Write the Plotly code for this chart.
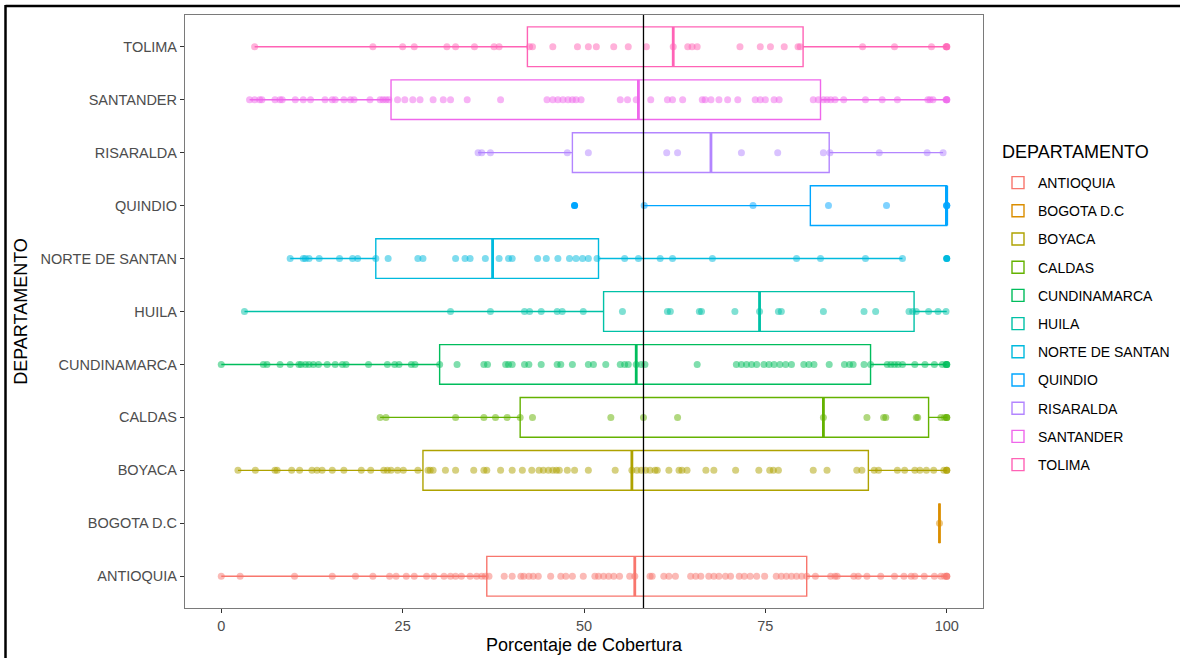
import plotly.graph_objects as go

# ---------------- data ----------------
departamentos = ["ANTIOQUIA", "BOGOTA D.C", "BOYACA", "CALDAS", "CUNDINAMARCA", "HUILA",
                 "NORTE DE SANTAN", "QUINDIO", "RISARALDA", "SANTANDER", "TOLIMA"]
colores = ["#F8766D", "#DB8E00", "#AEA200", "#64B200", "#00BD5C", "#00C1A7",
           "#00BADE", "#00A6FF", "#B385FF", "#EF67EB", "#FF63B6"]

q1 = [36.6, 99.0, 27.8, 41.2, 30.1, 52.7, 21.3, 81.2, 48.4, 23.4, 42.2]
mediana = [57.0, 99.0, 56.6, 83.0, 57.2, 74.2, 37.4, 100.0, 67.5, 57.5, 62.3]
q3 = [80.7, 99.0, 89.2, 97.5, 89.5, 95.5, 52.0, 100.0, 83.8, 82.6, 80.2]
bigote_inf = [0.0, 99.0, 2.3, 21.9, 0.0, 3.2, 9.5, 58.3, 35.4, 3.9, 4.6]
bigote_sup = [100.0, 99.0, 100.0, 100.0, 100.0, 100.0, 93.9, 100.0, 99.5, 100.0, 100.0]

atipicos_quindio = [48.7]
atipicos_norte = [100.0]

media_general = 58.2

pts_antioquia = [0, 2.6, 10.1, 15.3, 18.5, 20.9, 23.2, 24.1, 25.5, 26.6, 28.3, 29.3, 30.7, 31.6,
                 32.3, 33.1, 34.3, 35.2, 35.9, 36.4, 36.9, 39.0, 40.1, 41.3, 41.7, 42.4, 43.0, 43.7,
                 45.4, 46.8, 47.5, 48.4, 49.9, 51.5, 52.0, 52.7, 53.4, 54.1, 54.9, 56.3, 57.0, 59.1,
                 59.4, 61.0, 61.7, 62.6, 64.7, 65.4, 66.1, 67.2, 67.9, 68.6, 69.5, 70.2, 71.4, 72.1,
                 72.9, 73.8, 74.9, 76.5, 77.2, 77.9, 78.6, 79.3, 80.0, 80.7, 81.9, 84.0, 84.6, 84.9,
                 87.2, 87.8, 89.0, 90.9, 92.8, 94.1, 95.1, 95.6, 96.9, 98.3, 99.2, 99.7, 100, 100, 100]
pts_bogota = [99.0]
pts_boyaca = [2.3, 4.7, 7.4, 7.7, 9.7, 10.8, 12.5, 13.2, 13.9, 15.3, 16.9, 19.3, 20.6, 22.4, 22.9,
              23.4, 24.3, 25.1, 27.1, 28.5, 28.8, 29.2, 30.9, 32.3, 34.8, 36.2, 36.6, 38.5, 40.1,
              41.5, 42.8, 43.8, 44.4, 45.1, 45.7, 46.2, 46.6, 47.7, 48.7, 50.6, 54.3, 56.6, 57.3,
              57.9, 58.5, 59.1, 59.8, 60.1, 61.7, 63.1, 63.5, 64.2, 66.8, 67.9, 70.9, 74.1, 75.6,
              76.1, 76.8, 81.6, 83.5, 87.6, 88.3, 90.0, 90.6, 93.2, 94.2, 95.6, 96.3, 97.2, 98.2,
              99.6, 100, 100, 100]
pts_caldas = [21.9, 22.7, 32.3, 36.2, 37.8, 39.4, 41.2, 42.9, 53.7, 58.2, 62.9, 83.0, 89.0, 91.3,
              91.6, 95.8, 96.0, 99.2, 99.7, 100, 100, 100]
pts_cundinamarca = [0, 5.8, 6.3, 8.1, 9.5, 10.7, 11.0, 11.6, 12.1, 12.7, 13.4, 14.6, 15.7, 16.7,
                    17.2, 20.3, 22.9, 23.9, 24.5, 26.2, 26.7, 30.1, 32.5, 36.2, 36.7, 39.2, 39.6,
                    40.1, 41.8, 42.4, 44.1, 46.3, 46.8, 48.4, 50.6, 51.3, 53.0, 55.0, 55.6, 56.1,
                    57.2, 57.9, 58.4, 65.6, 71.0, 71.7, 72.4, 73.1, 73.8, 74.8, 75.5, 76.2, 77.0,
                    77.8, 78.6, 80.3, 81.0, 81.7, 83.8, 85.9, 86.6, 87.1, 88.6, 89.5, 91.8, 92.3,
                    92.8, 93.3, 93.9, 95.6, 97.0, 98.3, 99.4, 99.9, 100, 100, 100]
pts_huila = [3.2, 31.6, 37.1, 41.8, 42.5, 44.1, 46.3, 47.0, 49.9, 55.3, 61.5, 61.9, 65.9, 66.2,
             70.8, 74.2, 76.8, 77.2, 83.0, 88.6, 90.2, 94.8, 95.3, 95.8, 97.5, 98.8, 99.9]
pts_norte = [9.5, 11.3, 11.6, 12.1, 13.5, 16.3, 18.1, 18.8, 21.3, 23.0, 27.1, 27.8, 32.3, 33.6,
             34.3, 36.4, 38.3, 39.6, 40.1, 43.6, 44.8, 46.4, 48.0, 48.9, 49.8, 50.6, 51.8, 55.6,
             57.5, 60.5, 62.2, 67.7, 79.3, 82.6, 88.8, 93.9, 100]
pts_quindio = [48.7, 58.3, 73.3, 83.7, 91.7, 100, 100, 100, 100]
pts_risaralda = [35.4, 35.9, 37.1, 47.7, 50.6, 61.4, 62.9, 71.7, 76.7, 83.0, 83.9, 90.7, 97.3, 99.5]
pts_santander = [3.9, 4.6, 5.3, 5.6, 7.4, 8.1, 8.4, 10.2, 11.3, 12.3, 14.3, 15.3, 15.7, 16.9, 17.8,
                 18.3, 20.5, 21.9, 22.3, 22.7, 23.1, 24.3, 25.3, 26.4, 27.4, 29.2, 30.6, 31.6,
                 33.9, 38.5, 44.9, 45.7, 46.4, 47.1, 47.8, 48.4, 48.9, 49.6, 55.0, 56.0, 57.2,
                 59.2, 61.5, 62.2, 63.6, 66.3, 66.7, 67.5, 68.6, 69.8, 71.2, 73.6, 74.3, 75.0,
                 76.2, 76.9, 81.6, 82.3, 83.0, 83.5, 84.0, 84.6, 85.8, 88.8, 91.1, 93.2, 97.4,
                 97.7, 98.1, 99.9, 100, 100, 100]
pts_tolima = [4.6, 20.9, 25.0, 26.6, 31.1, 32.3, 34.9, 37.6, 38.3, 42.5, 42.9, 45.7, 49.1, 50.6,
              51.7, 54.1, 56.1, 58.6, 62.3, 64.3, 64.9, 65.6, 71.5, 74.3, 75.7, 77.6, 79.5, 79.8,
              88.4, 92.8, 97.9, 99.9, 100, 100, 100]

puntos = [pts_antioquia, pts_bogota, pts_boyaca, pts_caldas, pts_cundinamarca, pts_huila,
          pts_norte, pts_quindio, pts_risaralda, pts_santander, pts_tolima]
atipicos = [[], [], [], [], [], [], atipicos_norte, atipicos_quindio, [], [], []]

x_ticks = [0, 25, 50, 75, 100]
titulo_leyenda = "DEPARTAMENTO"

# ---------------- figure ----------------
FONT = "Liberation Sans, Arial, sans-serif"
BOX_W = 0.75

fig = go.Figure()

for i, dep in enumerate(departamentos):
    col = colores[i]
    fig.add_trace(go.Box(
        y=[i], q1=[q1[i]], median=[mediana[i]], q3=[q3[i]],
        lowerfence=[bigote_inf[i]], upperfence=[bigote_sup[i]],
        orientation="h", name=dep, legendgroup=dep, showlegend=True,
        width=BOX_W, whiskerwidth=0, boxpoints=False,
        fillcolor="rgba(255,255,255,0)", line=dict(color=col, width=1.4),
        hoverinfo="skip",
    ))
    # thicker median line (as in ggplot)
    fig.add_trace(go.Scatter(
        x=[mediana[i], mediana[i]], y=[i - BOX_W / 2, i + BOX_W / 2],
        mode="lines", line=dict(color=col, width=2.8),
        legendgroup=dep, showlegend=False, hoverinfo="skip",
    ))
    if atipicos[i]:
        fig.add_trace(go.Scatter(
            x=atipicos[i], y=[i] * len(atipicos[i]), mode="markers",
            marker=dict(color=col, size=7, line=dict(width=0)),
            legendgroup=dep, showlegend=False, hoverinfo="skip",
        ))
    fig.add_trace(go.Scatter(
        x=puntos[i], y=[i] * len(puntos[i]), mode="markers",
        marker=dict(color=col, size=7, opacity=0.5, line=dict(width=0)),
        legendgroup=dep, showlegend=False, hoverinfo="skip",
    ))

# vertical reference line (overall mean)
fig.add_shape(type="line", x0=media_general, x1=media_general, y0=0, y1=1,
              xref="x", yref="paper", line=dict(color="black", width=1.3))

# layout helpers (pixel -> paper)
L, R, T, B = 185, 197, 15, 50
pw, ph = 1180 - L - R, 658 - T - B
def px(xp):
    return (xp - L) / pw
def py(yp):
    return (658 - B - yp) / ph

# screenshot frame (top and left edges)
fig.add_shape(type="line", xref="paper", yref="paper", x0=px(5.5), x1=px(1180),
              y0=py(6), y1=py(6), line=dict(color="black", width=2.5))
fig.add_shape(type="line", xref="paper", yref="paper", x0=px(5.5), x1=px(5.5),
              y0=py(5), y1=py(660), line=dict(color="black", width=2.5))

# legend title
fig.add_annotation(text=titulo_leyenda, xref="paper", yref="paper", x=px(1000), y=py(152),
                   xanchor="left", yanchor="middle", showarrow=False,
                   font=dict(size=18, family=FONT, color="black"))

fig.update_layout(
    width=1180, height=658,
    margin=dict(l=L, r=R, t=T, b=B, autoexpand=False),
    paper_bgcolor="white", plot_bgcolor="white",
    font=dict(family=FONT, color="black"),
    xaxis=dict(
        range=[-5, 105], tickvals=x_ticks, ticktext=[str(v) for v in x_ticks],
        ticks="outside", ticklen=4, tickcolor="#333333", tickwidth=1,
        tickfont=dict(size=14.5, color="#4D4D4D", family=FONT),
        showgrid=False, zeroline=False, showline=True, mirror=True,
        linecolor="#7a7a7a", linewidth=1.2, automargin=False,
        title=dict(text="Porcentaje de Cobertura", font=dict(size=18, family=FONT, color="black"),
                   standoff=5),
    ),
    yaxis=dict(
        range=[-0.6, 10.6], tickvals=list(range(len(departamentos))), ticktext=departamentos,
        ticks="outside", ticklen=4, tickcolor="#333333", tickwidth=1,
        tickfont=dict(size=14.5, color="#4D4D4D", family=FONT),
        showgrid=False, zeroline=False, showline=True, mirror=True,
        linecolor="#7a7a7a", linewidth=1.2, automargin=False,
        title=dict(text="DEPARTAMENTO", font=dict(size=18, family=FONT, color="black"),
                   standoff=8),
    ),
    legend=dict(
        font=dict(size=14, family=FONT, color="black"),
        x=px(998), xanchor="left", y=py(167), yanchor="top",
        traceorder="grouped", tracegroupgap=7, bgcolor="rgba(0,0,0,0)",
        itemclick=False,
    ),
    showlegend=True,
)

fig.write_html("out.html", config={"displayModeBar": False},
               post_script="document.body.style.margin='0';")
